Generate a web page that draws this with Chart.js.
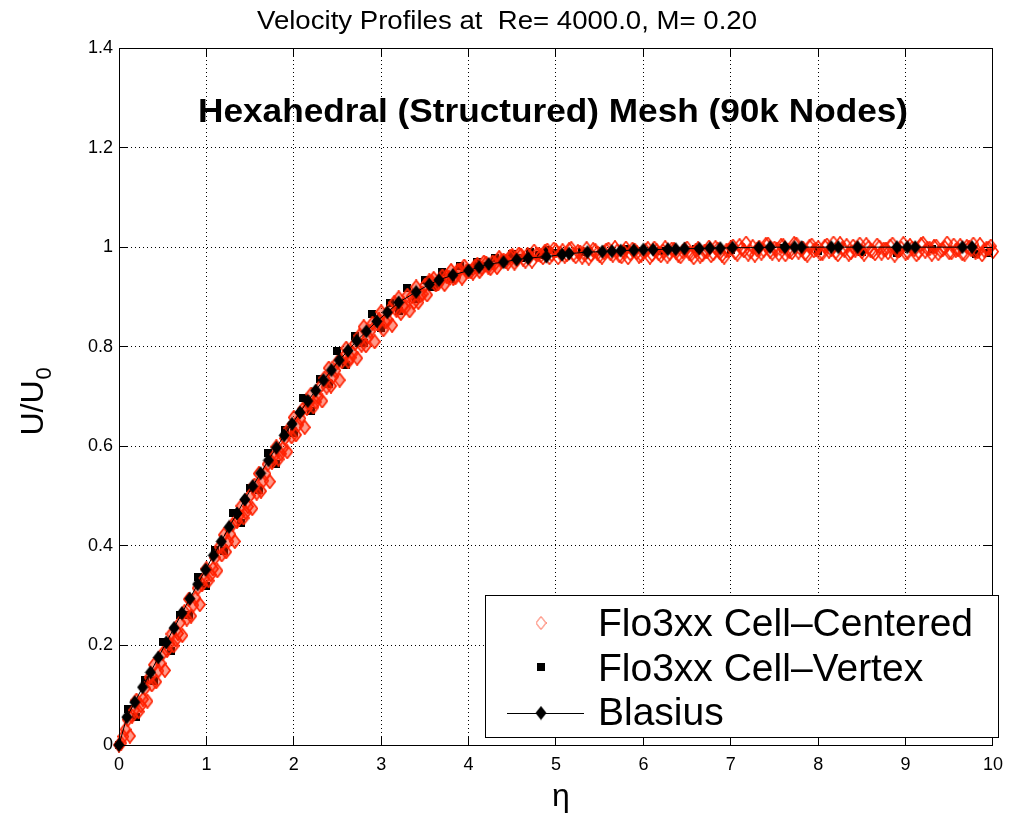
<!DOCTYPE html>
<html>
<head>
<meta charset="utf-8">
<script src="https://cdn.jsdelivr.net/npm/chart.js@4.4.0/dist/chart.umd.min.js"></script>
<style>
  html, body { margin: 0; padding: 0; background: #fff; }
  canvas { display: block; }
</style>
</head>
<body>
<canvas id="profile" width="1012" height="818"></canvas>
<script>
// values
const xTickLabels = ['0', '1', '2', '3', '4', '5', '6', '7', '8', '9', '10'];
const yTickLabels = ['0', '0.2', '0.4', '0.6', '0.8', '1', '1.2', '1.4'];
const xTicks = [0, 1, 2, 3, 4, 5, 6, 7, 8, 9, 10];
const yTicks = [0, 0.2, 0.4, 0.6, 0.8, 1.0, 1.2, 1.4];

// Flo3xx cell-centered (red open diamonds), first station set
const redEta = [
  0.00, 0.05, 0.10, 0.15, 0.20, 0.25, 0.30, 0.35, 0.40, 0.45,
  0.50, 0.55, 0.60, 0.65, 0.70, 0.75, 0.80, 0.85, 0.90, 0.95,
  1.00, 1.05, 1.10, 1.15, 1.20, 1.25, 1.30, 1.35, 1.40, 1.45,
  1.50, 1.55, 1.60, 1.65, 1.70, 1.75, 1.80, 1.85, 1.90, 1.95,
  2.00, 2.05, 2.10, 2.15, 2.20, 2.25, 2.30, 2.35, 2.40, 2.45,
  2.50, 2.55, 2.60, 2.65, 2.70, 2.75, 2.80, 2.85, 2.90, 2.95,
  3.00, 3.05, 3.10, 3.15, 3.20, 3.25, 3.30, 3.35, 3.40, 3.45,
  3.50, 3.55, 3.60, 3.65, 3.70, 3.75, 3.80, 3.85, 3.90, 3.95,
  4.00, 4.05, 4.10, 4.15, 4.20, 4.25, 4.30, 4.35, 4.40, 4.45,
  4.50, 4.55, 4.60, 4.65, 4.70, 4.75, 4.80, 4.85, 4.90, 4.95,
  5.00, 5.05, 5.10, 5.15, 5.20, 5.25, 5.30, 5.35, 5.40, 5.45,
  5.50, 5.55, 5.60, 5.65, 5.70, 5.75, 5.80, 5.85, 5.90, 5.95,
  6.00, 6.05, 6.10, 6.15, 6.20, 6.25, 6.30, 6.35, 6.40, 6.45,
  6.50, 6.55, 6.60, 6.65, 6.70, 6.75, 6.80, 6.85, 6.90, 6.95,
  7.00, 7.05, 7.10, 7.15, 7.20, 7.25, 7.30, 7.35, 7.40, 7.45,
  7.50, 7.55, 7.60, 7.65, 7.70, 7.75, 7.80, 7.85, 7.90, 7.95,
  8.00, 8.05, 8.10, 8.15, 8.20, 8.25, 8.30, 8.35, 8.40, 8.45,
  8.50, 8.55, 8.60, 8.65, 8.70, 8.75, 8.80, 8.85, 8.90, 8.95,
  9.00, 9.05, 9.10, 9.15, 9.20, 9.25, 9.30, 9.35, 9.40, 9.45,
  9.50, 9.55, 9.60, 9.65, 9.70, 9.75, 9.80, 9.85, 9.90, 9.95,
  10.00
];
const redU = [
  0.000, 0.017, 0.051, 0.058, 0.090, 0.079, 0.114, 0.136, 0.161, 0.149,
  0.184, 0.190, 0.223, 0.211, 0.246, 0.268, 0.293, 0.281, 0.315, 0.322,
  0.354, 0.342, 0.376, 0.398, 0.422, 0.409, 0.443, 0.449, 0.480, 0.467,
  0.501, 0.522, 0.545, 0.531, 0.564, 0.568, 0.599, 0.585, 0.616, 0.636,
  0.658, 0.643, 0.674, 0.676, 0.705, 0.689, 0.719, 0.737, 0.757, 0.740,
  0.769, 0.770, 0.797, 0.778, 0.806, 0.822, 0.840, 0.820, 0.847, 0.846,
  0.870, 0.850, 0.875, 0.889, 0.898, 0.882, 0.903, 0.901, 0.920, 0.903,
  0.923, 0.932, 0.937, 0.926, 0.942, 0.941, 0.953, 0.939, 0.954, 0.962,
  0.952, 0.948, 0.965, 0.958, 0.968, 0.957, 0.967, 0.979, 0.974, 0.968,
  0.983, 0.975, 0.984, 0.972, 0.981, 0.992, 0.986, 0.979, 0.994, 0.985,
  0.993, 0.988, 0.982, 0.995, 0.986, 0.991, 0.980, 0.997, 0.985, 0.993,
  0.983, 0.989, 0.996, 0.984, 0.992, 0.981, 0.998, 0.987, 0.994, 0.982,
  0.990, 0.997, 0.985, 0.993, 0.983, 0.999, 0.988, 0.995, 0.984, 0.991,
  0.998, 0.986, 0.994, 0.982, 0.992, 1.000, 0.987, 0.996, 0.984, 0.993,
  0.999, 0.989, 1.003, 0.993, 0.986, 1.001, 0.995, 0.988, 1.005, 0.992,
  0.998, 0.986, 1.003, 0.994, 0.989, 1.006, 0.996, 0.987, 1.001, 0.993,
  0.999, 0.988, 1.004, 0.995, 0.990, 1.007, 0.994, 0.986, 1.002, 0.997,
  0.991, 1.005, 0.993, 0.987, 1.000, 0.996, 0.989, 1.006, 0.994, 0.998,
  0.988, 1.003, 0.995, 0.990, 1.007, 0.997, 0.986, 1.002, 0.993, 0.999,
  0.989, 1.004, 0.995, 0.987, 1.001, 0.996, 0.990, 1.005, 0.994, 0.998,
  0.991
];

// Flo3xx cell-centered, second station set (sits lower / right of the first)
const redEta2 = [
  0.025, 0.075, 0.125, 0.175, 0.225, 0.275, 0.325, 0.375, 0.425, 0.475,
  0.525, 0.575, 0.625, 0.675, 0.725, 0.775, 0.825, 0.875, 0.925, 0.975,
  1.025, 1.075, 1.125, 1.175, 1.225, 1.275, 1.325, 1.375, 1.425, 1.475,
  1.525, 1.575, 1.625, 1.675, 1.725, 1.775, 1.825, 1.875, 1.925, 1.975,
  2.025, 2.075, 2.125, 2.175, 2.225, 2.275, 2.325, 2.375, 2.425, 2.475,
  2.525, 2.575, 2.625, 2.675, 2.725, 2.775, 2.825, 2.875, 2.925, 2.975,
  3.025, 3.075, 3.125, 3.175, 3.225, 3.275, 3.325, 3.375, 3.425, 3.475,
  3.525, 3.575, 3.625, 3.675, 3.725, 3.775, 3.825, 3.875, 3.925, 3.975,
  4.025, 4.075, 4.125, 4.175, 4.225, 4.275, 4.325, 4.375, 4.425, 4.475,
  4.525, 4.575, 4.625, 4.675, 4.725, 4.775, 4.825, 4.875, 4.925, 4.975,
  5.025, 5.075, 5.125, 5.175, 5.225, 5.275, 5.325, 5.375, 5.425, 5.475,
  5.525, 5.575, 5.625, 5.675, 5.725, 5.775, 5.825, 5.875, 5.925, 5.975,
  6.025, 6.075, 6.125, 6.175, 6.225, 6.275, 6.325, 6.375, 6.425, 6.475,
  6.525, 6.575, 6.625, 6.675, 6.725, 6.775, 6.825, 6.875, 6.925, 6.975,
  7.025, 7.075, 7.125, 7.175, 7.225, 7.275, 7.325, 7.375, 7.425, 7.475,
  7.525, 7.575, 7.625, 7.675, 7.725, 7.775, 7.825, 7.875, 7.925, 7.975,
  8.025, 8.075, 8.125, 8.175, 8.225, 8.275, 8.325, 8.375, 8.425, 8.475,
  8.525, 8.575, 8.625, 8.675, 8.725, 8.775, 8.825, 8.875, 8.925, 8.975,
  9.025, 9.075, 9.125, 9.175, 9.225, 9.275, 9.325, 9.375, 9.425, 9.475,
  9.525, 9.575, 9.625, 9.675, 9.725, 9.775, 9.825, 9.875, 9.925, 9.975
];
const redU2 = [
  0.004, 0.031, 0.018, 0.070, 0.067, 0.092, 0.088, 0.121, 0.127, 0.164,
  0.150, 0.203, 0.199, 0.224, 0.220, 0.253, 0.259, 0.295, 0.282, 0.334,
  0.330, 0.354, 0.350, 0.382, 0.388, 0.423, 0.409, 0.461, 0.456, 0.479,
  0.475, 0.506, 0.510, 0.545, 0.529, 0.580, 0.574, 0.596, 0.589, 0.619,
  0.623, 0.656, 0.638, 0.687, 0.679, 0.699, 0.691, 0.719, 0.721, 0.752,
  0.733, 0.780, 0.770, 0.787, 0.777, 0.803, 0.802, 0.831, 0.810, 0.854,
  0.834, 0.854, 0.843, 0.873, 0.867, 0.878, 0.872, 0.889, 0.889, 0.906,
  0.904, 0.931, 0.924, 0.932, 0.925, 0.939, 0.937, 0.953, 0.938, 0.952,
  0.951, 0.962, 0.951, 0.970, 0.960, 0.970, 0.959, 0.972, 0.971, 0.981,
  0.968, 0.986, 0.976, 0.985, 0.972, 0.985, 0.983, 0.992, 0.979, 0.996,
  0.979, 0.993, 0.985, 0.997, 0.981, 0.990, 0.986, 0.978, 0.995, 0.988,
  0.980, 0.994, 0.987, 0.999, 0.983, 0.991, 0.979, 0.996, 0.989, 0.984,
  0.993, 0.980, 0.998, 0.987, 0.992, 0.982, 0.996, 0.990, 0.981, 0.995,
  0.988, 0.979, 0.997, 0.985, 0.991, 0.983, 0.999, 0.989, 0.980, 0.994,
  1.002, 0.986, 0.997, 1.008, 0.991, 0.984, 1.000, 0.994, 1.006, 0.988,
  0.996, 1.003, 0.985, 0.992, 1.007, 0.990, 0.998, 0.984, 1.004, 0.995,
  0.987, 1.001, 0.992, 1.008, 0.985, 0.997, 1.003, 0.989, 0.994, 1.006,
  0.986, 0.999, 0.991, 1.004, 0.988, 0.996, 1.002, 0.984, 0.993, 1.007,
  0.990, 0.998, 0.985, 1.005, 0.992, 0.997, 1.001, 0.987, 0.995, 1.008,
  0.989, 0.994, 1.003, 0.986, 0.999, 1.006, 0.991, 0.985, 0.997, 1.002
];

// Flo3xx cell-vertex (black squares)
const squareEta = [
  0.0, 0.1, 0.2, 0.3, 0.4, 0.5, 0.6, 0.7, 0.8, 0.9,
  1.0, 1.1, 1.2, 1.3, 1.4, 1.5, 1.6, 1.7, 1.8, 1.9,
  2.0, 2.1, 2.2, 2.3, 2.4, 2.5, 2.6, 2.7, 2.8, 2.9,
  3.0, 3.1, 3.2, 3.3, 3.4, 3.5, 3.6, 3.7, 3.8, 3.9,
  4.0, 4.1, 4.2, 4.3, 4.4, 4.5, 4.6, 4.7, 4.8, 4.9,
  5.0, 5.3, 5.8, 6.2, 6.6, 7.0, 7.6, 8.0, 8.5, 8.9,
  9.3, 9.8, 9.95
];
const squareU = [
  0.000, 0.073, 0.056, 0.130, 0.129, 0.206, 0.189, 0.262, 0.261, 0.337,
  0.320, 0.392, 0.390, 0.465, 0.446, 0.517, 0.513, 0.586, 0.565, 0.632,
  0.626, 0.696, 0.671, 0.735, 0.725, 0.791, 0.763, 0.822, 0.808, 0.865,
  0.838, 0.887, 0.872, 0.917, 0.896, 0.933, 0.919, 0.950, 0.937, 0.962,
  0.952, 0.971, 0.963, 0.979, 0.972, 0.987, 0.979, 0.991, 0.984, 0.994,
  0.988, 0.990, 0.996, 0.992, 0.997, 0.994, 0.998, 0.993, 0.990, 0.989,
  0.996, 0.987, 0.988
];

// Blasius (black diamonds with line)
const blasiusEta = [
  0.00, 0.09, 0.18, 0.27, 0.36, 0.45, 0.54, 0.63, 0.72, 0.81,
  0.90, 0.99, 1.08, 1.17, 1.26, 1.35, 1.44, 1.53, 1.62, 1.71,
  1.80, 1.89, 1.98, 2.07, 2.16, 2.25, 2.34, 2.43, 2.52, 2.62,
  2.72, 2.83, 2.95, 3.07, 3.20, 3.40, 3.55, 3.66, 3.82, 4.00,
  4.12, 4.23, 4.40, 4.55, 4.68, 4.89, 5.07, 5.15, 5.36, 5.53,
  5.64, 5.74, 5.89, 6.00, 6.11, 6.28, 6.37, 6.47, 6.64, 6.76,
  6.88, 7.02, 7.32, 7.45, 7.62, 7.73, 7.81, 8.15, 8.23, 8.45,
  8.90, 9.02, 9.11, 9.65, 9.76
];
const blasiusU = [
  0.000, 0.056, 0.086, 0.116, 0.146, 0.176, 0.206, 0.235, 0.265, 0.294,
  0.323, 0.352, 0.381, 0.409, 0.438, 0.465, 0.493, 0.520, 0.546, 0.572,
  0.597, 0.622, 0.645, 0.668, 0.691, 0.712, 0.733, 0.753, 0.773, 0.792,
  0.812, 0.831, 0.851, 0.869, 0.889, 0.910, 0.925, 0.934, 0.944, 0.953,
  0.960, 0.966, 0.970, 0.975, 0.978, 0.981, 0.985, 0.987, 0.990, 0.991,
  0.992, 0.993, 0.994, 0.995, 0.995, 0.996, 0.996, 0.997, 0.997, 0.998,
  0.998, 0.999, 0.999, 1.000, 1.000, 1.000, 1.000, 1.000, 1.000, 1.000,
  1.000, 1.000, 1.000, 1.000, 1.000
];

const RED = '#ff2200';
const FONT = '"Liberation Sans", Arial, Helvetica, sans-serif';

const makeDiamond = (w, h, fill, stroke, lw) => {
  let c = document.createElement('canvas');
  c.width = w;
  c.height = h;
  let g = c.getContext('2d');
  let m = lw ? lw / 2 : 0.5;
  g.beginPath();
  g.moveTo(w / 2, m);
  g.lineTo(w - m, h / 2);
  g.lineTo(w / 2, h - m);
  g.lineTo(m, h / 2);
  g.closePath();
  if (fill) { g.fillStyle = fill; g.fill(); }
  if (stroke) { g.strokeStyle = stroke; g.lineWidth = lw; g.stroke(); }
  return c;
};

const makeSquare = (s) => {
  let c = document.createElement('canvas');
  c.width = s;
  c.height = s;
  let g = c.getContext('2d');
  g.fillStyle = '#000';
  g.fillRect(0, 0, s, s);
  return c;
};

// where the stations pile up the outlines merge into a solid band
const redMark = makeDiamond(12, 15, null, RED, 1.6);
const redMarkDense = makeDiamond(12, 15, 'rgba(255,34,0,0.45)', RED, 1.7);
const legendRedMark = makeDiamond(11, 14, null, '#ff5a40', 1);
const blasiusMark = makeDiamond(12, 15, '#000', null, 0);
const squareMark = makeSquare(8);

const toPoints = (xs, ys) => xs.map((v, i) => ({ x: v, y: ys[i] }));

const fitText = (ctx, str, font, cx, y, width) => {
  ctx.save();
  ctx.font = font;
  let w = ctx.measureText(str).width;
  ctx.translate(cx, y);
  ctx.scale(width / w, 1);
  ctx.textAlign = 'center';
  ctx.textBaseline = 'alphabetic';
  ctx.fillText(str, 0, 0);
  ctx.restore();
};

const align = (p) => Math.round(p - 0.5) + 0.5;

// box, inward ticks, legend and the texts
const framePlugin = {
  id: 'frame',
  afterDraw(chart) {
    const { ctx, chartArea: a, scales: { x, y } } = chart;
    const tickLen = 9;
    ctx.save();
    ctx.strokeStyle = '#000';
    ctx.lineWidth = 1;
    ctx.setLineDash([]);
    ctx.beginPath();
    xTicks.forEach((v) => {
      let px = align(x.getPixelForValue(v));
      ctx.moveTo(px, a.bottom);
      ctx.lineTo(px, a.bottom - tickLen);
      ctx.moveTo(px, a.top);
      ctx.lineTo(px, a.top + tickLen);
    });
    yTicks.forEach((v) => {
      let py = align(y.getPixelForValue(v));
      ctx.moveTo(a.left, py);
      ctx.lineTo(a.left + tickLen, py);
      ctx.moveTo(a.right, py);
      ctx.lineTo(a.right - tickLen, py);
    });
    ctx.stroke();
    let l = align(a.left), r = align(a.right), t = align(a.top), b = align(a.bottom);
    ctx.strokeRect(l, t, r - l, b - t);

    // legend
    ctx.fillStyle = '#fff';
    ctx.fillRect(485, 595, 513, 142);
    ctx.strokeRect(485.5, 595.5, 513, 142);
    ctx.drawImage(legendRedMark, 541 - legendRedMark.width / 2, 623 - legendRedMark.height / 2);
    ctx.drawImage(squareMark, 541 - squareMark.width / 2, 667 - squareMark.height / 2);
    ctx.beginPath();
    ctx.moveTo(507, 713.5);
    ctx.lineTo(584, 713.5);
    ctx.stroke();
    ctx.drawImage(blasiusMark, 541 - blasiusMark.width / 2, 713 - blasiusMark.height / 2);
    ctx.fillStyle = '#000';
    ctx.font = '39px ' + FONT;
    ctx.textAlign = 'left';
    ctx.textBaseline = 'alphabetic';
    ctx.fillText('Flo3xx Cell\u2013Centered', 598, 636);
    ctx.fillText('Flo3xx Cell\u2013Vertex', 598, 681);
    ctx.fillText('Blasius', 598, 725);

    // title and annotation
    fitText(ctx, 'Velocity Profiles at  Re= 4000.0, M= 0.20', '26px ' + FONT, 507, 29, 500);
    fitText(ctx, 'Hexahedral (Structured) Mesh (90k Nodes)', 'bold 34px ' + FONT, 553, 122, 710);

    // x label
    ctx.font = '32px ' + FONT;
    ctx.textAlign = 'center';
    ctx.fillText('\u03b7', 561, 806);

    // y label U/U0, rotated
    ctx.save();
    ctx.translate(43, 408);
    ctx.rotate(-Math.PI / 2);
    ctx.font = '32px ' + FONT;
    ctx.textAlign = 'left';
    let w = ctx.measureText('U/U').width;
    ctx.fillText('U/U', -w / 2, 0);
    ctx.font = '22px ' + FONT;
    ctx.fillText('0', w / 2 + 1, 8);
    ctx.restore();
    ctx.restore();
  }
};

const ctx = document.getElementById('profile').getContext('2d');

const myChart = new Chart(ctx, {
  type: 'scatter',
  data: {
    datasets: [
      {
        label: 'Blasius',
        data: toPoints(blasiusEta, blasiusU),
        showLine: true,
        borderColor: '#000',
        borderWidth: 1,
        pointStyle: blasiusMark,
        pointRadius: 6,
        clip: false,
        order: 0
      },
      {
        label: 'Flo3xx Cell\u2013Centered',
        data: toPoints(redEta.concat(redEta2), redU.concat(redU2)),
        showLine: false,
        pointStyle: (c) => (c.raw && c.raw.x < 4.6 ? redMarkDense : redMark),
        pointRadius: 5,
        clip: false,
        order: 1
      },
      {
        label: 'Flo3xx Cell\u2013Vertex',
        data: toPoints(squareEta, squareU),
        showLine: false,
        pointStyle: squareMark,
        pointRadius: 4,
        clip: false,
        order: 2
      }
    ]
  },
  options: {
    responsive: false,
    devicePixelRatio: 1,
    animation: false,
    layout: {
      autoPadding: false,
      padding: { left: 0, top: 48, right: 8, bottom: 0 }
    },
    plugins: {
      legend: { display: false },
      tooltip: { enabled: false },
      title: { display: false }
    },
    scales: {
      x: {
        type: 'linear',
        min: 0,
        max: 10,
        afterFit: (scale) => { scale.height = 73; },
        ticks: {
          stepSize: 1,
          padding: 9,
          color: '#000',
          font: { family: FONT, size: 18 },
          maxRotation: 0,
          callback: (v, i) => xTickLabels[i]
        },
        grid: { color: '#000', lineWidth: 1, drawTicks: false },
        border: { display: false, dash: [1, 3] }
      },
      y: {
        type: 'linear',
        min: 0,
        max: 1.4,
        afterFit: (scale) => { scale.width = 119; },
        ticks: {
          stepSize: 0.2,
          padding: 6,
          color: '#000',
          font: { family: FONT, size: 18 },
          callback: (v, i) => yTickLabels[i]
        },
        grid: { color: '#000', lineWidth: 1, drawTicks: false },
        border: { display: false, dash: [1, 3] }
      }
    }
  },
  plugins: [framePlugin]
});
</script>
</body>
</html>
